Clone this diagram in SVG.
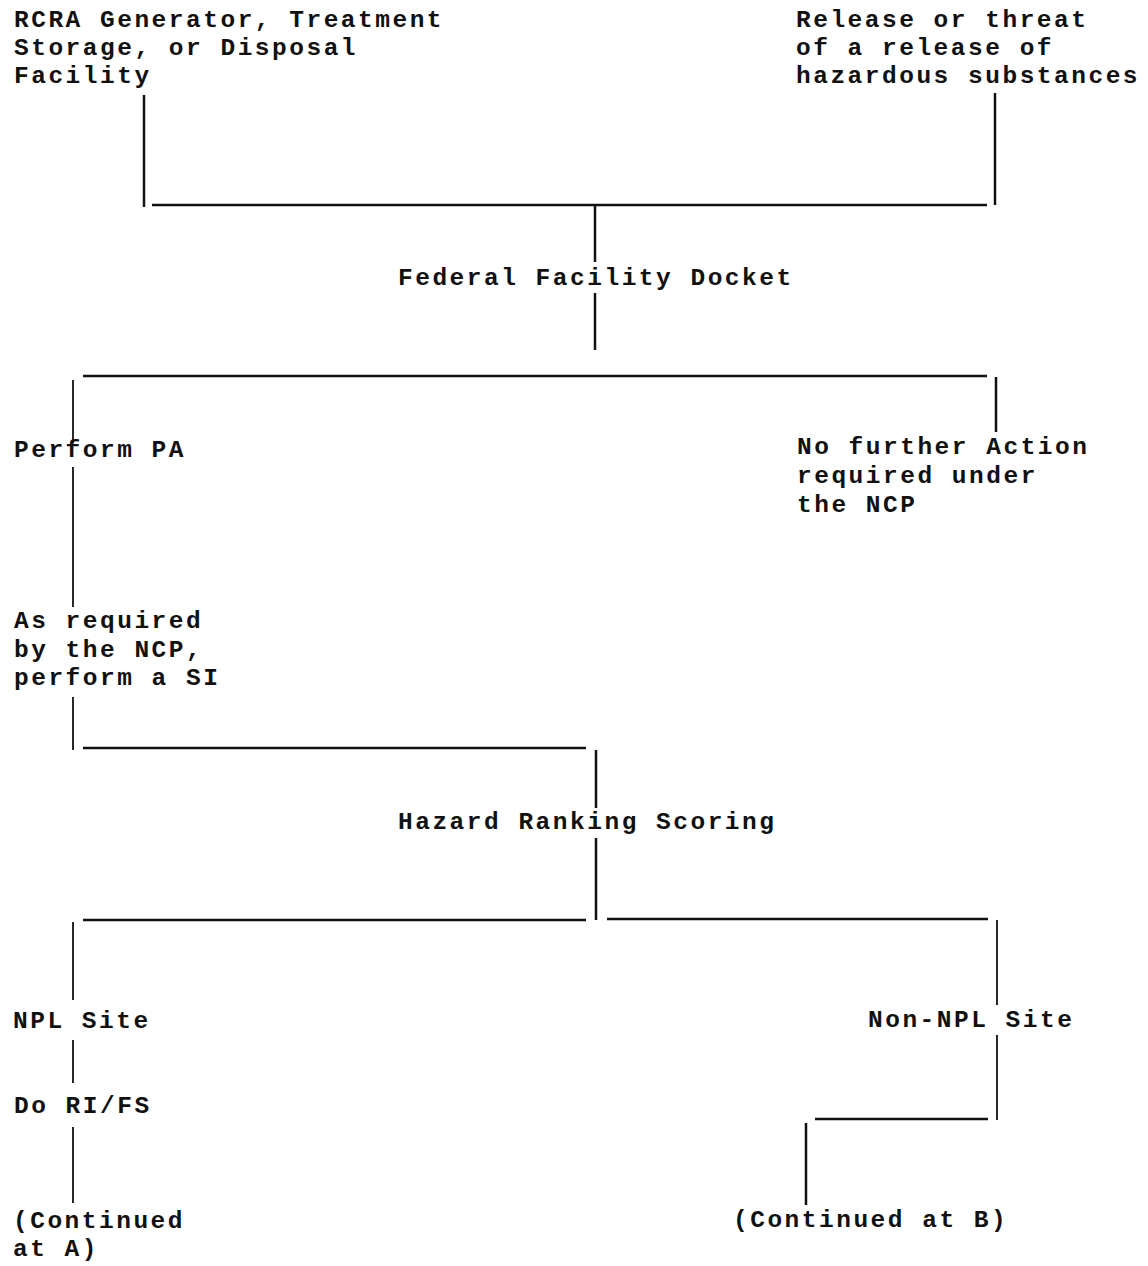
<svg xmlns="http://www.w3.org/2000/svg" width="1148" height="1266" viewBox="0 0 1148 1266">
<style>
  text { font-family: "Liberation Mono", "DejaVu Sans Mono", monospace; font-size: 24.5px; letter-spacing: 2.5px; font-weight: bold; fill: #111; }
  .c line { stroke: #111; stroke-width: 2.5; }
  .c line.t { stroke-width: 1.8; }
</style>
<rect width="1148" height="1266" fill="#fff"/>
<g id="connectors" class="c">
  <line x1="144" y1="95" x2="144" y2="207"/>
  <line x1="152" y1="205" x2="987" y2="205"/>
  <line x1="995" y1="93" x2="995" y2="205"/>
  <line x1="595" y1="205" x2="595" y2="262"/>
  <line x1="595" y1="293" x2="595" y2="350"/>
  <line x1="83" y1="376" x2="987" y2="376"/>
  <line x1="996" y1="377" x2="996" y2="432"/>
  <line class="t" x1="73" y1="380" x2="73" y2="443"/>
  <line class="t" x1="73" y1="467" x2="73" y2="607"/>
  <line class="t" x1="73" y1="697" x2="73" y2="750"/>
  <line x1="83" y1="748" x2="586" y2="748"/>
  <line x1="596" y1="750" x2="596" y2="808"/>
  <line x1="596" y1="838" x2="596" y2="920"/>
  <line x1="83" y1="920" x2="586" y2="920"/>
  <line x1="607" y1="919" x2="988" y2="919"/>
  <line class="t" x1="73" y1="922" x2="73" y2="1000"/>
  <line class="t" x1="73" y1="1040" x2="73" y2="1083"/>
  <line class="t" x1="73" y1="1127" x2="73" y2="1203"/>
  <line class="t" x1="997" y1="920" x2="997" y2="1005"/>
  <line class="t" x1="997" y1="1035" x2="997" y2="1120"/>
  <line x1="815" y1="1119" x2="988" y2="1119"/>
  <line x1="806" y1="1123" x2="806" y2="1205"/>
</g>
<g id="rcra">
  <text x="14" y="27">RCRA Generator, Treatment</text>
  <text x="14" y="55">Storage, or Disposal</text>
  <text x="14" y="83">Facility</text>
</g>
<g id="release">
  <text x="796" y="27">Release or threat</text>
  <text x="796" y="55">of a release of</text>
  <text x="796" y="83">hazardous substances</text>
</g>
<g id="ffd">
  <text x="398" y="285">Federal Facility Docket</text>
</g>
<g id="pa">
  <text x="14" y="457">Perform PA</text>
</g>
<g id="nfa">
  <text x="797" y="454">No further Action</text>
  <text x="797" y="483">required under</text>
  <text x="797" y="512">the NCP</text>
</g>
<g id="si">
  <text x="14" y="628">As required</text>
  <text x="14" y="657">by the NCP,</text>
  <text x="14" y="685">perform a SI</text>
</g>
<g id="hrs">
  <text x="398" y="829">Hazard Ranking Scoring</text>
</g>
<g id="npl">
  <text x="13" y="1028">NPL Site</text>
</g>
<g id="nonnpl">
  <text x="868" y="1027">Non-NPL Site</text>
</g>
<g id="rifs">
  <text x="14" y="1113">Do RI/FS</text>
</g>
<g id="contA">
  <text x="13" y="1228">(Continued</text>
  <text x="13" y="1256">at A)</text>
</g>
<g id="contB">
  <text x="733" y="1227">(Continued at B)</text>
</g>
</svg>
